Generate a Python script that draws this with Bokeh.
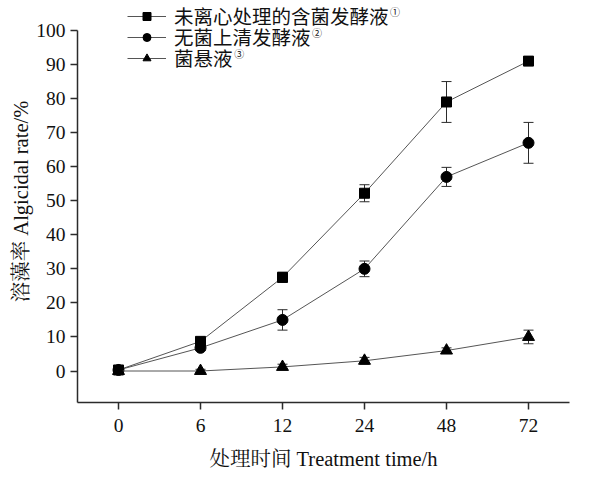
from bokeh.plotting import figure
from bokeh.models import (ColumnDataSource, FixedTicker, Legend, LegendItem,
                          Whisker, TeeHead, Label, Range1d)
from bokeh.embed import file_html
from bokeh.resources import INLINE

# ---- data ----
time_labels = ["0", "6", "12", "24", "48", "72"]
series_names = ["未离心处理的含菌发酵液", "无菌上清发酵液", "菌悬液"]
series_marks = ["①", "②", "③"]
broth_vals = [0.3, 8.7, 27.5, 52.2, 79.0, 91.0]
broth_err = [0.3, 1.0, 1.5, 2.5, 6.0, 0.5]
super_vals = [0.3, 6.8, 15.0, 30.0, 57.0, 67.0]
super_err = [0.3, 0.8, 3.0, 2.3, 2.8, 6.0]
susp_vals = [0.0, 0.0, 1.2, 3.0, 6.0, 10.0]
susp_err = [0.2, 0.5, 0.8, 1.0, 0.8, 2.0]
y_ticks = list(range(0, 101, 10))
x_title = "处理时间 Treatment time/h"
y_title = "溶藻率 Algicidal rate/%"

xs = list(range(len(time_labels)))

SERIF = "Liberation Serif, Noto Serif CJK SC, Noto Sans CJK SC"
CJK = "Noto Sans CJK SC"
AX = "#2b2b2b"
LN = "#555555"
TXT = "#111111"

p = figure(width=585, height=480, output_backend="svg", toolbar_location=None,
           x_range=Range1d(-0.5, 5.5), y_range=Range1d(-9.25, 108.8),
           min_border_left=77, min_border_right=16, min_border_top=0,
           min_border_bottom=78)
p.outline_line_color = None
p.grid.visible = False
p.background_fill_color = "white"

series = [
    (broth_vals, broth_err, "square", 10),
    (super_vals, super_err, "circle", 11),
    (susp_vals, susp_err, "triangle", 12),
]
legend_offsets = [372, 351, 330]
for (vals, err, mk, sz), name, off in zip(series, series_names, legend_offsets):
    src = ColumnDataSource(dict(x=xs, y=vals,
                                up=[v + e for v, e in zip(vals, err)],
                                lo=[v - e for v, e in zip(vals, err)]))
    w = Whisker(source=src, base="x", upper="up", lower="lo", dimension="height",
                line_color=AX, line_width=1,
                upper_head=TeeHead(size=10, line_color=AX, line_width=1),
                lower_head=TeeHead(size=10, line_color=AX, line_width=1))
    p.add_layout(w)
    l = p.line("x", "y", source=src, line_color=LN, line_width=1)
    s = p.scatter("x", "y", source=src, marker=mk, size=sz,
                  fill_color="black", line_color="black")
    lg = Legend(items=[LegendItem(label=name, renderers=[l, s])],
                location=(50, off), background_fill_alpha=0,
                border_line_color=None, glyph_width=39, glyph_height=20,
                label_height=20, label_standoff=8, spacing=0, padding=0,
                margin=0, label_text_font=CJK, label_text_font_size="19.5px",
                label_text_color=TXT)
    p.add_layout(lg, "center")

# superscript marks after legend labels
sup_pos = [(3.31, 105.5), (2.36, 99.5), (1.413, 93.3)]
for mark, (sx, sy) in zip(series_marks, sup_pos):
    p.add_layout(Label(x=sx, y=sy, text=mark, text_font=CJK,
                       text_font_size="10px", text_color=TXT,
                       text_baseline="middle"))

# axes
p.xaxis.ticker = FixedTicker(ticks=xs)
p.xaxis.major_label_overrides = {i: t for i, t in zip(xs, time_labels)}
p.yaxis.ticker = FixedTicker(ticks=y_ticks)
p.yaxis.bounds = (-9.25, 100)
for ax in (p.xaxis, p.yaxis):
    ax.axis_line_color = AX
    ax.axis_line_width = 1.5
    ax.major_tick_line_color = AX
    ax.major_tick_line_width = 1.5
    ax.major_tick_out = 7
    ax.major_tick_in = 0
    ax.minor_tick_line_color = None
    ax.major_label_text_font = SERIF
    ax.major_label_text_font_size = "19.5px"
    ax.major_label_text_color = TXT
    ax.axis_label_text_font = SERIF
    ax.axis_label_text_font_size = "20.5px"
    ax.axis_label_text_font_style = "normal"
    ax.axis_label_text_color = TXT

p.xaxis.axis_label = x_title
p.yaxis.axis_label = y_title
p.xaxis.major_label_standoff = 9
p.xaxis.axis_label_standoff = 13
p.yaxis.major_label_standoff = 5
p.yaxis.axis_label_standoff = 1

open("out.html", "w").write(file_html(p, INLINE))
